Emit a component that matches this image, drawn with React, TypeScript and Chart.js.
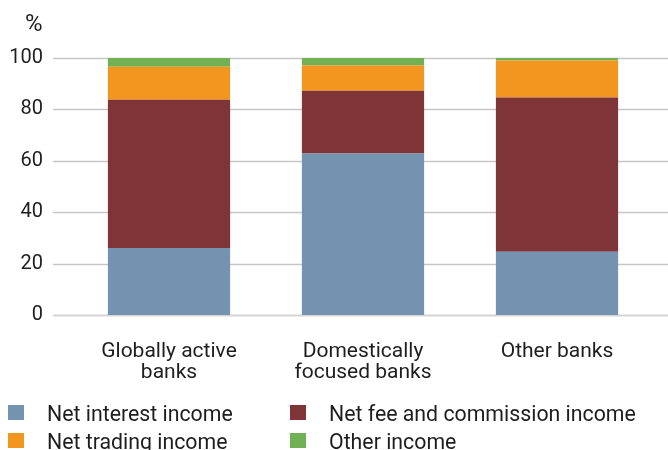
import React, { useEffect, useRef } from "react";
import { Chart, registerables } from "chart.js";

Chart.register(...registerables);

const categories: string[][] = [
  ["Globally active", "banks"],
  ["Domestically", "focused banks"],
  ["Other banks"],
];
const netInterest = [26.1, 62.8, 24.6];
const netFee = [57.7, 24.5, 60.0];
const netTrading = [12.8, 9.8, 14.4];
const otherIncome = [3.4, 2.9, 1.0];
const seriesNames = [
  "Net interest income",
  "Net fee and commission income",
  "Net trading income",
  "Other income",
];
const seriesColors = ["#7393B0", "#7F3538", "#F3961F", "#72B056"];
const yTicks = [0, 20, 40, 60, 80, 100];

const FONT = "Roboto, 'Liberation Sans', sans-serif";
const TEXT = "#1e1e1e";

const gridPlugin = {
  id: "extGrid",
  beforeDatasetsDraw(chart: any) {
    const ctx = chart.ctx;
    const y = chart.scales.y;
    ctx.save();
    yTicks.forEach((v) => {
      const py = Math.round(y.getPixelForValue(v)) + 0.5;
      ctx.strokeStyle = v === 0 ? "#d4d4d4" : "#c6c6c6";
      ctx.lineWidth = v === 0 ? 2 : 1.3;
      ctx.beginPath();
      ctx.moveTo(53, py);
      ctx.lineTo(668, py);
      ctx.stroke();
    });
    ctx.restore();
  },
};

export default function App() {
  const ref = useRef<HTMLCanvasElement | null>(null);
  useEffect(() => {
    if (!ref.current) return;
    const data = [netInterest, netFee, netTrading, otherIncome];
    const chart = new Chart(ref.current, {
      type: "bar",
      data: {
        labels: categories as any,
        datasets: data.map((d, i) => ({
          label: seriesNames[i],
          data: d,
          backgroundColor: seriesColors[i],
          borderWidth: 0,
          barPercentage: 0.63,
          categoryPercentage: 1,
        })),
      },
      options: {
        animation: false,
        responsive: false,
        maintainAspectRatio: false,
        layout: { padding: { top: 58, right: 14, left: 0, bottom: 0 } },
        plugins: {
          legend: { display: false },
          tooltip: { enabled: false },
        },
        scales: {
          x: {
            stacked: true,
            grid: { display: false, drawTicks: false },
            border: { display: false },
            ticks: {
              color: TEXT,
              font: { family: FONT, size: 21, lineHeight: 1.0 },
              padding: 26,
              maxRotation: 0,
              autoSkip: false,
            },
            afterFit: (s: any) => {
              s.height = 135;
            },
          },
          y: {
            stacked: true,
            min: 0,
            max: 100,
            grid: { display: false, drawTicks: false },
            border: { display: false },
            ticks: {
              stepSize: 20,
              color: TEXT,
              font: { family: FONT, size: 20 },
              padding: 29,
            },
            afterFit: (s: any) => {
              s.width = 72;
            },
          },
        },
      },
      plugins: [gridPlugin],
    });
    return () => chart.destroy();
  }, []);

  const legendItem = (i: number, left: number, top: number, textLeft: number) => (
    <div key={i} style={{ position: "absolute", left, top, height: 22 }}>
      <div
        style={{
          position: "absolute",
          left: 0,
          top: 2,
          width: 16,
          height: 15,
          background: seriesColors[i],
        }}
      />
      <div
        style={{
          position: "absolute",
          left: textLeft,
          top: 0,
          whiteSpace: "nowrap",
          fontFamily: FONT,
          fontSize: 21.3,
          color: TEXT,
          lineHeight: "22px",
        }}
      >
        {seriesNames[i]}
      </div>
    </div>
  );

  return (
    <div
      style={{
        position: "fixed",
        left: 0,
        top: 0,
        width: 668,
        height: 450,
        overflow: "hidden",
        background: "#fff",
      }}
    >
      <canvas ref={ref} width={668} height={450} style={{ position: "absolute", left: 0, top: 0 }} />
      <div
        style={{
          position: "absolute",
          left: 25,
          top: 10,
          fontFamily: FONT,
          fontSize: 24,
          color: TEXT,
          lineHeight: "26px",
        }}
      >
        %
      </div>
      {legendItem(0, 8, 403, 39)}
      {legendItem(1, 290, 403, 39)}
      {legendItem(2, 8, 431, 39)}
      {legendItem(3, 290, 431, 39)}
    </div>
  );
}
